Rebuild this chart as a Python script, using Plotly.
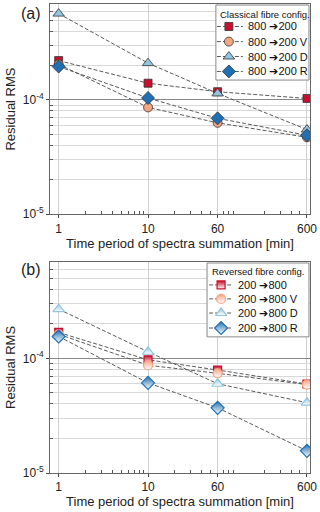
import plotly.graph_objects as go

# time period of spectra summation [min]
minutes = [1, 10, 60, 600]

# (a) classical fibre configuration
cls_title = "Classical fibre config."
cls_names = ["800 ➔200", "800 ➔200 V", "800 ➔200 D", "800 ➔200 R"]
cls_plain = [2.21e-4, 1.40e-4, 1.18e-4, 1.03e-4]
cls_v = [2.05e-4, 8.6e-5, 6.3e-5, 4.7e-5]
cls_d = [5.7e-4, 2.1e-4, 1.14e-4, 5.5e-5]
cls_r = [1.96e-4, 1.04e-4, 6.9e-5, 4.9e-5]

# (b) reversed fibre configuration
rev_title = "Reversed fibre config."
rev_names = ["200 ➔800", "200 ➔800 V", "200 ➔800 D", "200 ➔800 R"]
rev_plain = [1.68e-4, 9.7e-5, 7.9e-5, 5.97e-5]
rev_v = [1.62e-4, 8.7e-5, 7.4e-5, 5.9e-5]
rev_d = [2.68e-4, 1.14e-4, 6.0e-5, 4.1e-5]
rev_r = [1.55e-4, 6.1e-5, 3.7e-5, 1.56e-5]

colors = ["#C8102E", "#F4A582", "#92C5DE", "#1F6FB4"]
symbols = ["square", "circle", "triangle-up", "diamond"]
sizes = [8, 9, 10, 10]

# minor tick positions on the log axes
x_minor = [2, 3, 4, 5, 6, 7, 8, 9, 20, 30, 40, 50, 70, 80, 90, 200, 300, 400, 500, 700]
y_minor = [2e-5, 3e-5, 4e-5, 5e-5, 6e-5, 7e-5, 8e-5, 9e-5,
           2e-4, 3e-4, 4e-4, 5e-4, 6e-4, 7e-4]

dash_line = dict(color="#5a5a5a", width=1, dash="4px,2px")


def marker_a(i):
    return dict(symbol=symbols[i], size=sizes[i], color=colors[i],
                line=dict(color="#333333", width=0.8))


def marker_b(i):
    # half filled look: colour on top fading to white below
    return dict(symbol=symbols[i], size=sizes[i], color=colors[i],
                gradient=dict(type="vertical", color="white"),
                line=dict(color=colors[i], width=1.2))


fig = go.Figure()

for i, ys in enumerate([cls_plain, cls_v, cls_d, cls_r]):
    fig.add_trace(go.Scatter(x=minutes, y=ys, name=cls_names[i], mode="lines+markers",
                             line=dash_line, marker=marker_a(i),
                             xaxis="x", yaxis="y"))

for i, ys in enumerate([rev_plain, rev_v, rev_d, rev_r]):
    fig.add_trace(go.Scatter(x=minutes, y=ys, name=rev_names[i], mode="lines+markers",
                             line=dash_line, marker=marker_b(i),
                             xaxis="x2", yaxis="y2"))


# compact legend boxes (plotly's own legend rows are too tall for this size)
def add_legend(xa, ya, box, title, names, marker_fn, rows, line_x, mark_x, text_x, title_xy):
    x0, x1, y0, y1 = box
    fig.add_trace(go.Scatter(x=[x0, x1, x1, x0, x0], y=[y0, y0, y1, y1, y0],
                             mode="lines", fill="toself", fillcolor="white",
                             line=dict(color="#888", width=1), hoverinfo="skip",
                             xaxis=xa, yaxis=ya))
    for i, name in enumerate(names):
        fig.add_trace(go.Scatter(x=line_x, y=[rows[i]] * 2, mode="lines",
                                 line=dash_line, hoverinfo="skip",
                                 xaxis=xa, yaxis=ya))
        fig.add_trace(go.Scatter(x=[mark_x], y=[rows[i]], mode="markers",
                                 marker=marker_fn(i), hoverinfo="skip",
                                 xaxis=xa, yaxis=ya))
        fig.add_annotation(text=name, x=text_x, y=rows[i], xref=xa, yref=ya,
                           xanchor="left", yanchor="middle", showarrow=False,
                           font=dict(size=11, color="#111"))
    fig.add_annotation(text=title, x=title_xy[0], y=title_xy[1], xref=xa, yref=ya,
                       xanchor="left", yanchor="middle", showarrow=False,
                       font=dict(size=9.5, color="#111"))


add_legend("x3", "y3", (0.638, 0.996, 0.638, 0.995), cls_title, cls_names, marker_a,
           [0.893, 0.821, 0.75, 0.679], [0.642, 0.742], 0.688, 0.752, (0.645, 0.952))
add_legend("x4", "y4", (0.604, 0.996, 0.645, 0.995), rev_title, rev_names, marker_b,
           [0.891, 0.825, 0.758, 0.687], [0.612, 0.704], 0.658, 0.717, (0.617, 0.955))

xax = dict(type="log", range=[-0.097, 2.812], autorange=False,
           tickmode="array", tickvals=minutes,
           ticktext=[str(m) for m in minutes],
           showgrid=True, gridcolor="#d0d0d0", gridwidth=1,
           ticks="outside", ticklen=3, tickcolor="#444",
           minor=dict(tickmode="array", tickvals=x_minor, ticks="inside",
                      ticklen=3, tickcolor="#555", showgrid=False),
           showline=True, linecolor="#666", linewidth=1, mirror=True,
           zeroline=False,
           title=dict(text="Time period of spectra summation [min]",
                      font=dict(size=13, color="#222"), standoff=2),
           tickfont=dict(size=12, color="#222"))
yax = dict(type="log", range=[-5, -3.16], autorange=False,
           tickmode="array", tickvals=[1e-5, 1e-4],
           ticktext=["10<sup>-5</sup>", "10<sup>-4</sup>"],
           showgrid=True, gridcolor="#888", gridwidth=1,
           ticks="outside", ticklen=3, tickcolor="#444",
           minor=dict(tickmode="array", tickvals=y_minor, ticks="inside",
                      ticklen=3, tickcolor="#555",
                      showgrid=True, gridcolor="#d8d8d8", gridwidth=1),
           showline=True, linecolor="#666", linewidth=1, mirror=True,
           zeroline=False,
           title=dict(text="Residual RMS", font=dict(size=13, color="#222"), standoff=4),
           tickfont=dict(size=12, color="#222"))
hidden = dict(range=[0, 1], visible=False, fixedrange=True)

fig.update_layout(
    width=320, height=512,
    margin=dict(l=50, r=10, t=4, b=39, autoexpand=False),
    paper_bgcolor="white", plot_bgcolor="white",
    font=dict(family="Liberation Sans, Arial, sans-serif"),
    showlegend=False,
    xaxis=dict(xax, domain=[0, 1], anchor="y"),
    yaxis=dict(yax, domain=[0.552, 1], anchor="x"),
    xaxis2=dict(xax, domain=[0, 1], anchor="y2"),
    yaxis2=dict(yax, domain=[0, 0.45], anchor="x2"),
    xaxis3=dict(hidden, overlaying="x", anchor="y3"),
    yaxis3=dict(hidden, overlaying="y", anchor="x3"),
    xaxis4=dict(hidden, overlaying="x2", anchor="y4"),
    yaxis4=dict(hidden, overlaying="y2", anchor="x4"),
)

fig.add_annotation(text="(a)", xref="paper", yref="paper", x=-0.073, y=0.979,
                   xanchor="center", yanchor="middle", showarrow=False,
                   font=dict(size=16, color="#222"))
fig.add_annotation(text="(b)", xref="paper", yref="paper", x=-0.073, y=0.433,
                   xanchor="center", yanchor="middle", showarrow=False,
                   font=dict(size=16, color="#222"))

fig.write_html("out.html", config={"displayModeBar": False},
               post_script="document.body.style.margin='0';")
